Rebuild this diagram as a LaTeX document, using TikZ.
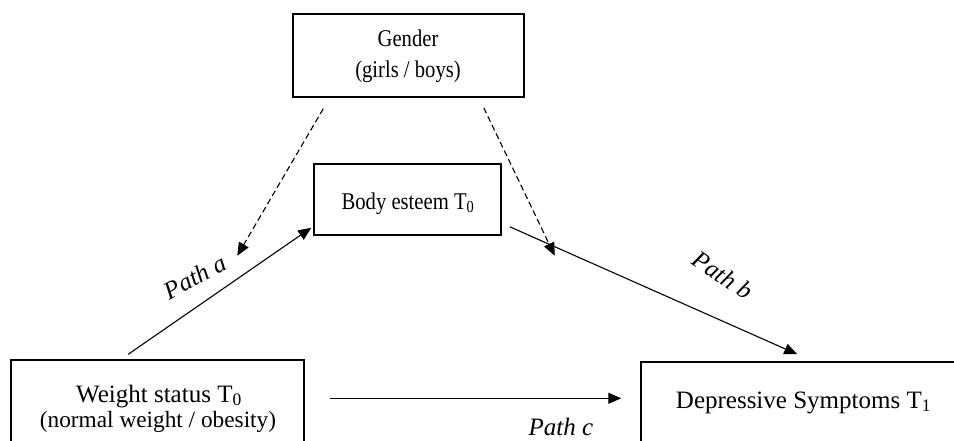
\documentclass[tikz,border=0pt]{standalone}
\usepackage{fontspec}
\setmainfont{Liberation Serif}
\newfontfamily\condfont[FakeStretch=0.86]{Liberation Serif}
\usetikzlibrary{arrows.meta,calc}
\begin{document}
\begin{tikzpicture}[x=1pt,y=-1pt,
  box/.style={draw, line width=1.5pt, rectangle, inner sep=0pt},
  txt/.style={inner sep=0pt, anchor=base, font=\fontsize{#1}{30}\selectfont},
  ctxt/.style={inner sep=0pt, anchor=base, font=\condfont\fontsize{#1}{30}\selectfont},
  lbl/.style={inner sep=0pt, anchor=center, font=\fontsize{25}{30}\selectfont\itshape},
  conn/.style={line width=1.1pt, -{Triangle[length=13pt,width=11pt]}},
  dconn/.style={conn, dash pattern=on 6pt off 3.5pt}
]
\useasboundingbox (0,0) rectangle (954,440);
\clip (0,0) rectangle (954,440);
% boxes
\node[box, minimum width=231pt, minimum height=83pt] (gender) at (408.5,55.5) {};
\node[box, minimum width=187pt, minimum height=71pt] (body) at (407.5,199.5) {};
\node[box, minimum width=293pt, minimum height=90pt] (weight) at (157.5,405) {};
\node[box, minimum width=320pt, minimum height=90pt] (dep) at (801,407) {};
% texts
\node[ctxt=24] (tgender) at (408,46) {Gender};
\node[ctxt=24] (tgender2) at (408,77) {(girls / boys)};
\node[ctxt=24] (tbody) at (408,209) {Body esteem T\textsubscript{0}};
\node[txt=25] (tweight) at (159,402) {Weight status T\textsubscript{0}};
\node[txt=23.3] (tweight2) at (158,427) {(normal weight / obesity)};
\node[txt=25] (tdep) at (803.5,408) {Depressive Symptoms T\textsubscript{1}};
% connectors
\draw[conn] ($(weight.north west)+(118,-5)$) -- ($(body.south west)+(-2,-8)$);
\draw[conn] ($(body.south east)+(8,-9)$) -- ($(dep.north west)+(157,-7)$);
\draw[conn] ($(weight.north east)+(25,39)$) -- ($(dep.north west)+(-19,37)$);
\draw[dconn] ($(gender.south west)+(31,11)$) -- ($(body.south west)+(-76,20)$);
\draw[dconn] ($(gender.south east)+(-41,10)$) -- ($(body.south east)+(53,20)$);
% path labels
\node[lbl, rotate=28] (pa) at (195,277) {Path a};
\node[lbl, rotate=-34] (pb) at (723,275) {Path b};
\node[lbl] (pc) at (561,427) {Path c};
\end{tikzpicture}
\end{document}
